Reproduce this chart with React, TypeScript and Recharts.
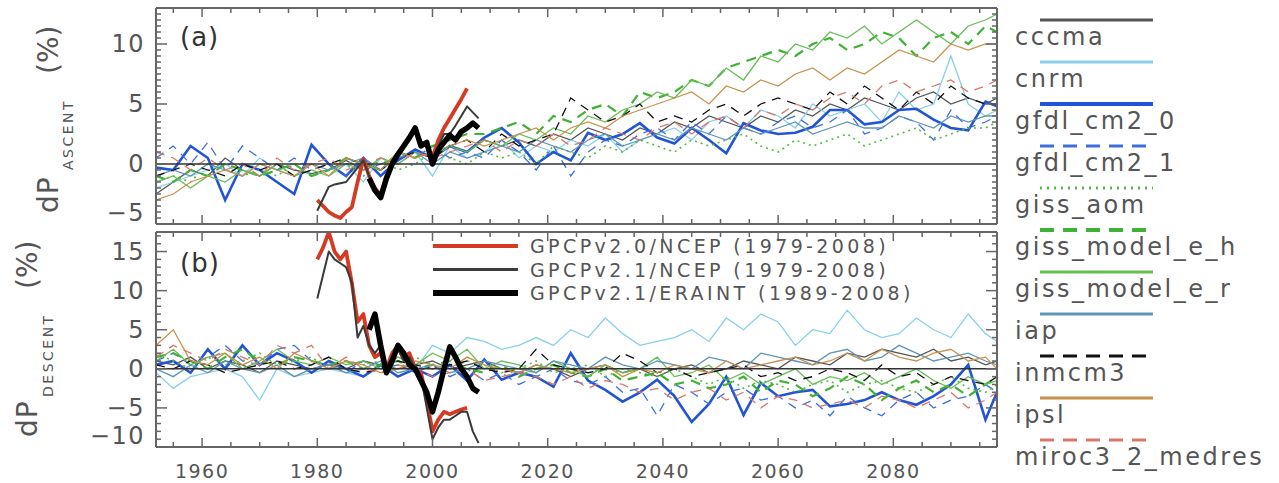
import React from 'react';
import { LineChart, Line, XAxis, YAxis, ReferenceLine } from 'recharts';

const FONT = '"DejaVu Sans", sans-serif';
const TXT = '#555555';
const AXIS = '#666666';

const modelYears = [1952,1955,1958,1961,1964,1967,1970,1973,1976,1979,1982,1985,1988,1991,1994,1997,2000,2003,2006,2009,2012,2015,2018,2021,2024,2027,2030,2033,2036,2039,2042,2045,2048,2051,2054,2057,2060,2063,2066,2069,2072,2075,2078,2081,2084,2087,2090,2093,2096,2098];
const obsYears = [1980,1981,1982,1983,1984,1985,1986,1987,1988,1989,1990,1991,1992,1993,1994,1995,1996,1997,1998,1999,2000,2001,2002,2003,2004,2005,2006,2007,2008];

const xTicks = [1955,1960,1965,1970,1975,1980,1985,1990,1995,2000,2005,2010,2015,2020,2025,2030,2035,2040,2045,2050,2055,2060,2065,2070,2075,2080,2085,2090,2095];
const xLabelTicks = [1960,1980,2000,2020,2040,2060,2080];
const aYTicks = [-5,-4.5,-4,-3.5,-3,-2.5,-2,-1.5,-1,-0.5,0,0.5,1,1.5,2,2.5,3,3.5,4,4.5,5,5.5,6,6.5,7,7.5,8,8.5,9,9.5,10,10.5,11,11.5,12,12.5,13];
const aYLabels = [-5,0,5,10];
const bYTicks = [-10,-9,-8,-7,-6,-5,-4,-3,-2,-1,0,1,2,3,4,5,6,7,8,9,10,11,12,13,14,15,16,17];
const bYLabels = [-10,-5,0,5,10,15];

// ---------- Panel (a): ASCENT ----------
const aCccma = [-2.5,-1.5,-0.5,-1,0.5,-0.5,-1,0,-0.5,-0.8, -0.5,0.3,-0.5,0,0.5,1,0.5,1.5,1,2, 1.5,2,1.5,2.5,2,3,2.5,2,3,2.5, 3.5,3,4,3.5,3,4,3.5,4.5,4,5, 4.5,5.5,5,4.5,5.5,6,5,5.5,5,5.5];
const aCnrm = [-2,-1.5,-1,-0.5,0,-1,0.5,-0.5,0,-1, -0.5,0,-1.5,0.5,0,1,-1,1.5,0.5,1, 2,0.5,1.5,1,2,1.5,2.5,1,2,2.5, 3,2,3.5,4,3,4.5,4,3,5,4, 4.5,5,3.5,6,4.5,5,9,5,4,4.5];
const aGfdl0 = [-0.3,-0.5,1.5,0.5,-3,0,-0.5,-1.5,-2.5,1.6, 0,-1,0.5,-1,0.3,1.2,0.5,1.5,1,2.2, 3,1.8,0,1,0.3,2.6,2,2.5,3.4,2.2, 1.7,3,2,0.9,3.4,2.8,2.5,2.6,3.1,4.5, 4.5,3.3,3.5,4.5,4.6,3.7,3,2.8,5.2,4.8];
const aGfdl1 = [0.5,1.5,0,1.8,-0.5,1.5,0.5,-0.5,0.5,-0.5, 0,-1,0.5,-0.5,1,0.5,1.5,0.5,1,0.5, 2,1,-0.5,1.5,-1,1,2,1.5,2.5,3, 2,3.5,2.5,4,3,2.5,3.5,4,3,3.5, 4.5,2.5,3,4,3.5,2,4.5,3,3.5,4];
const aGissAom = [-1.5,-1,-1.5,0,-0.5,-1,-0.5,-1,0,-1, -0.5,0,-1,0.5,-0.5,0,1,0.5,0,1, 0.5,1,0,1.5,1,0.5,1.5,1,2,1.5, 1,2,1.5,2,2.5,1.5,1,2,1.5,2, 2.5,1.5,2,2.5,3,2,2.5,3,3,3.5];
const aGissH = [-1,-1.5,-0.5,-1,0,-0.5,-1,-0.5,0,-1, -0.5,0.5,0,-0.5,1,0.5,1.5,2,2.5,2.5, 3,3.5,2.5,4,3.5,4.5,5,4,6,5.5, 6,7,6.5,8,8.5,9,9.5,9,10,10.5, 9.5,10,11,10.5,9,10.5,11,10,11.5,11];
const aGissR = [-1.5,-1,-2,-1,-1.5,-0.5,-1,0,-1,-0.5, -1,0,-0.5,0.5,0,1,0.5,1.5,1,2, 1.5,2.5,2,3,2.5,4,3.5,4.5,5,6, 5.5,7,6.5,8,7,9,8.5,10,9.5,11, 10.5,11.5,10,11,12,11,10,11.5,12,12.5];
const aIap = [-1,-0.5,-1,0,-0.5,-1,0,-0.5,-1,0, -0.5,0,0.5,-0.5,0.5,1,0,1,0.5,1, 1.5,1,2,1.5,1,2,2.5,1.5,2,2.5, 2,3,2.5,2,3,2.5,3,3.5,2.5,3, 3.5,3,3,4,3.5,3,4,3.5,4,4];
const aInmcm3 = [-1,-0.5,0,-0.5,-1,0,-0.5,0,-1,-0.5, 0,0.5,0,-0.5,0.5,1,0.5,1.5,2,1, 2.5,1.5,2,2.5,5.5,4.5,3.5,4,5,3.5, 4,3.5,4.5,5,4,5,5.5,5,4.5,6, 5,6.5,5.5,4.5,6,5,6.5,5.5,5,5];
const aIpsl = [-3,-2.5,-1.5,-1,-0.5,-1,0,-0.5,-1,0, -1,0.5,0,-0.5,1,0.5,1,1.5,2,1.5, 2,2.5,3,2,3,3.5,3,4,4.5,5, 5.5,6,5,6.5,6,7,6.5,7.5,8,7, 8,7.5,8.5,9.5,9,8.5,10,9.5,10,10];
const aMiroc = [1,0.5,-0.5,0.5,-0.5,0,-1,0.5,-0.5,0, 0.5,-0.5,0,0.5,0,1,0.5,1,1.5,2, 1,2,1.5,2.5,1.5,2,3,2.5,2,3, 3.5,2.5,3.5,4,3,4.5,4,5,4.5,5.5, 6,5,6.5,7,6,6.5,7,6,6.5,7];

const aObsV20 = [-3.0,-3.5,-4.0,-4.3,-4.5,-4.0,-3.6,-1.5,0.4,-1.0,-2.0,-2.6,-1.0,0.2,0.8,1.5,2.2,2.8,1.8,1.5,0.5,2.0,3.0,3.8,4.6,5.4,6.3,null,null];
const aObsV21 = [-3.9,-2.9,-1.9,-1.7,-1.6,-1.5,-0.9,-0.3,0.3,-1.0,-2.0,-2.7,-1.0,0.3,1.0,1.6,2.3,2.8,1.8,1.5,0.3,1.5,2.5,2.5,3.2,4.0,4.8,4.3,3.8];
const aObsEra = [null,null,null,null,null,null,null,null,null,-1.2,-2.2,-2.8,-1.2,0,0.8,1.5,2.2,3.0,1.5,1.8,0,1.2,1.8,2.4,2.0,2.7,3.0,3.4,3.0];

// ---------- Panel (b): DESCENT ----------
const bCccma = [1,0.5,1.5,0,1,0.5,-0.5,1,0.5,0, 0.5,0,1,0.5,0,0.5,1,0,0.5,1, 0,-0.5,0.5,0,-1,0,0.5,-0.5,0,-1, 0,0.5,-0.5,0,1,0.5,0,1.5,1,0.5, 2,1.5,2.5,2,1.5,2.5,1,1.5,0.5,1];
const bCnrm = [-0.5,-2.5,-1,-0.5,0,-1,-4,0,-1,-0.5, 0,-0.5,-1,0.5,-1,0,3,2,4,3.5, 2.5,3,4,3,5,4,6.5,4.5,3,3.5, 4,5,3.5,6.5,5,7,6,3,5,4.5, 7.5,5,4,4.5,6.5,5,4,7,4.5,3.5];
const bGfdl0 = [0.5,1,-0.5,2.5,0,3,0.5,2,1,-0.5, 1,0,-1,0.5,-1,0,-1,0.5,-1.5,1.2, -1.4,-0.5,-1,-2.3,2,-1.5,-2.7,-4.2,-3,-1.4, -3.5,-6.8,-4.5,-1,-5.9,-1.8,-3.5,-3,-2.7,-4.8, -4.5,-4,-3,-4,-4.6,-3.5,-2,0.5,-6.5,-3];
const bGfdl1 = [1,2,0.5,1.5,3,1,0.5,2.5,3,1, 0.5,-0.5,1,0,0.5,-0.5,0.5,-1,0,-1.5, -0.5,-2,-1,0,-1.5,-2,-1,-3,-2.5,-6, -2,-3,-4.5,-3,-2.5,-4,-3.5,-5,-4,-6, -3.5,-5,-6,-4,-3,-5,-4,-3.5,-2,-3];
const bGissAom = [2,1,0,1.5,0.5,1,2,0.5,1,1.5, 0,1,0.5,1,0,1.5,0.5,0,1,0.5, -0.5,0,1,-0.5,0,0.5,-1,0,-0.5,-1, 0,-1,-2,-1,-2.5,-1.5,-2,-3,-2,-1.5, -3,-2,-1.5,-2.5,-3,-2,-1,-2.5,-3,-2];
const bGissH = [1.5,2,1,0,1.5,2.5,1,0.5,1.5,1, 0.5,1,0,0.5,1,0,0.5,1,0,-0.5, 0.5,-1,0,0.5,-0.5,-1,0,-1.5,-1,-0.5, -2,-1.5,-2.5,-2,-1,-3,-1.5,-2,-3.5,-2.5, -1,-2,-4,-2.5,-1.5,-3,-2,-3.5,-2,-1];
const bGissR = [1,2.5,0.5,1.5,2,0,1,2.5,1,0.5, 1.5,0.5,1,0,1.5,0.5,2,1,2.5,0, 1,0.5,-0.5,1,0,-1,0.5,-0.5,0,1.5, -1,-0.5,0.5,-1.5,-0.5,-2,-1,0,-2,-1, -1.5,-0.5,-2,-1,0,-1.5,-2.5,-1,-2,-1.5];
const bIap = [0,-1,0.5,-0.5,1,0,-0.5,0.5,-1,0, 0.5,-0.5,0,1,-0.5,0,0.5,-0.5,0,1, 0.5,0,-0.5,1,0.5,0,1.5,0.5,0,1, 0.5,0,1.5,1,0,2,1.5,1,0.5,2, 2.5,1,1.5,3,2,1,1.5,2,1,0.5];
const bInmcm3 = [0.5,0,1,0.5,-0.5,0,0.5,1,0,0.5, 1.5,0,-0.5,0,1,0.5,0,0.5,1,0, -0.5,0,2.5,0.5,0,-0.5,0,2,1,-0.5, 0,-1,-0.5,0,0.5,-1,-0.5,-1.5,-1,0, -0.5,-1.5,0.5,-1,-0.5,-2,-1,-1.5,-2,-1];
const bIpsl = [3,5,1,0.5,2,0.5,1.5,0,2,1, 0,1,0.5,-0.5,0,1,0.5,0,1.5,0.5, 0,-0.5,0.5,0,-0.5,0,0.5,-1,0,-0.5, 0.5,0,-0.5,1,0,0.5,1,1.5,0.5,1, 2,1,2.5,1.5,1,2,2.5,1,1.5,0];
const bMiroc = [1.5,3,2,1,2.5,1.5,0.5,3,2,3, 0,1.5,0,-0.5,0.5,0,-1,-0.5,0,-1.5, -1,-0.5,-1,-2,-1,-2.5,-1.5,-2,-3,-2.5, -4,-3,-2.5,-4,-3,-5,-3.5,-4,-5,-4.5, -4,-5,-3.5,-4,-5,-4,-3,-5,-4,-3];

const bObsV20 = [14,15.5,17.5,15,14,15,11,6,7,3,1.5,2,0,2,3,1.5,2,0,-0.5,-4,-8,-6.5,-5.5,-5.8,-5.5,-5.2,-5,null,null];
const bObsV21 = [9,12,15,14,13.5,13,11,4,5.5,3,2,3,0,1.5,2.5,1,1.5,0,-1,-5,-9,-7.5,-6.5,-6.5,-6,-5.5,-5.5,-8,-9.5];
const bObsEra = [null,null,null,null,null,null,null,null,null,5,7,3,-0.5,1,3,2,0.5,0,-1.5,-3,-5.5,-3,0,2.8,1.5,0,-1,-2.5,-3];

const modelSeries = [
  { key: 'cccma', color: '#555555', width: 1.3, dash: undefined as string | undefined, lw: 3, ldash: undefined as string | undefined },
  { key: 'cnrm', color: '#88d0ea', width: 1.3, dash: undefined, lw: 3, ldash: undefined },
  { key: 'gfdl_cm2_0', color: '#2255d4', width: 2.6, dash: undefined, lw: 4, ldash: undefined },
  { key: 'gfdl_cm2_1', color: '#3d6ee0', width: 1.3, dash: '9 7', lw: 3, ldash: '14 9' },
  { key: 'giss_aom', color: '#55bb44', width: 1.6, dash: '2 4', lw: 3, ldash: '2 5' },
  { key: 'giss_model_e_h', color: '#3fb236', width: 2.2, dash: '10 7', lw: 4, ldash: '14 9' },
  { key: 'giss_model_e_r', color: '#66bd54', width: 1.3, dash: undefined, lw: 3, ldash: undefined },
  { key: 'iap', color: '#5f96b8', width: 1.3, dash: undefined, lw: 3, ldash: undefined },
  { key: 'inmcm3', color: '#111111', width: 1.3, dash: '9 7', lw: 3, ldash: '14 9' },
  { key: 'ipsl', color: '#c8924c', width: 1.3, dash: undefined, lw: 3, ldash: undefined },
  { key: 'miroc3_2_medres', color: '#d8786a', width: 1.3, dash: '9 7', lw: 3, ldash: '14 9' },
];

const obsSeries = [
  { key: 'v20', name: 'GPCPv2.0/NCEP (1979-2008)', color: '#d43a24', width: 3.8, lw: 4 },
  { key: 'v21', name: 'GPCPv2.1/NCEP (1979-2008)', color: '#3a3a3a', width: 2.0, lw: 3 },
  { key: 'era', name: 'GPCPv2.1/ERAINT (1989-2008)', color: '#000000', width: 5.5, lw: 6 },
];

const aModels: Record<string, number[]> = {
  cccma: aCccma, cnrm: aCnrm, gfdl_cm2_0: aGfdl0, gfdl_cm2_1: aGfdl1, giss_aom: aGissAom,
  giss_model_e_h: aGissH, giss_model_e_r: aGissR, iap: aIap, inmcm3: aInmcm3, ipsl: aIpsl, miroc3_2_medres: aMiroc,
};
const bModels: Record<string, number[]> = {
  cccma: bCccma, cnrm: bCnrm, gfdl_cm2_0: bGfdl0, gfdl_cm2_1: bGfdl1, giss_aom: bGissAom,
  giss_model_e_h: bGissH, giss_model_e_r: bGissR, iap: bIap, inmcm3: bInmcm3, ipsl: bIpsl, miroc3_2_medres: bMiroc,
};
const aObs: Record<string, (number | null)[]> = { v20: aObsV20, v21: aObsV21, era: aObsEra };
const bObs: Record<string, (number | null)[]> = { v20: bObsV20, v21: bObsV21, era: bObsEra };

function buildRows(models: Record<string, number[]>, obs: Record<string, (number | null)[]>) {
  const years = Array.from(new Set([...modelYears, ...obsYears])).sort((p, q) => p - q);
  return years.map((yr) => {
    const row: Record<string, number | null> = { year: yr };
    const mi = modelYears.indexOf(yr);
    Object.keys(models).forEach((k) => { row[k] = mi >= 0 ? models[k][mi] : null; });
    const oi = obsYears.indexOf(yr);
    Object.keys(obs).forEach((k) => { row[k] = oi >= 0 ? obs[k][oi] : null; });
    return row;
  });
}

const rowsA = buildRows(aModels, aObs);
const rowsB = buildRows(bModels, bObs);

const fmt = (v: number) => (v < 0 ? '\u2212' + Math.abs(v) : String(v));

const makeXTick = (side: 'top' | 'bottom', labels: boolean) => (props: any) => {
  const { x, y, payload } = props;
  const v = payload.value;
  const major = v % 20 === 0;
  const len = major ? 9 : 5;
  const dir = side === 'bottom' ? -1 : 1;
  return (
    <g>
      <line x1={x} x2={x} y1={y} y2={y + dir * len} stroke={AXIS} strokeWidth={1.5} />
      {labels && xLabelTicks.includes(v) ? (
        <text x={x} y={y + 31} textAnchor="middle" fontSize={19} letterSpacing={1.5} fill={TXT} fontFamily={FONT}>{v}</text>
      ) : null}
    </g>
  );
};

const makeYTick = (side: 'left' | 'right', labels: number[], min: number) => (props: any) => {
  const { x, y, payload } = props;
  const v = payload.value;
  const major = v % 5 === 0;
  const len = major ? 11 : 5;
  const dir = side === 'left' ? 1 : -1;
  return (
    <g>
      <line x1={x} x2={x + dir * len} y1={y} y2={y} stroke={AXIS} strokeWidth={1.5} />
      {side === 'left' && labels.includes(v) ? (
        <text x={x - 11} y={y + (v === min ? -11 : 0)} textAnchor="end" dominantBaseline="central" fontSize={24} letterSpacing={1.5} fill={TXT} fontFamily={FONT}>{fmt(v)}</text>
      ) : null}
    </g>
  );
};

type PanelProps = {
  rows: any[];
  domain: [number, number];
  yTicks: number[];
  yLabels: number[];
  height: number;
  margin: { top: number; right: number; bottom: number; left: number };
  showXLabels: boolean;
};

function Panel({ rows, domain, yTicks, yLabels, height, margin, showXLabels }: PanelProps) {
  return (
    <LineChart width={1000} height={height} data={rows} margin={margin}>
      <XAxis xAxisId="b" dataKey="year" type="number" domain={[1952, 2098]} allowDataOverflow
        ticks={xTicks} interval={0} tickSize={0} tickMargin={0} height={1}
        axisLine={{ stroke: AXIS, strokeWidth: 2 }} tickLine={false} tick={makeXTick('bottom', showXLabels)} />
      <XAxis xAxisId="t" orientation="top" dataKey="year" type="number" domain={[1952, 2098]} allowDataOverflow
        ticks={xTicks} interval={0} tickSize={0} tickMargin={0} height={1}
        axisLine={{ stroke: AXIS, strokeWidth: 2 }} tickLine={false} tick={makeXTick('top', false)} />
      <YAxis yAxisId="l" type="number" domain={domain} allowDataOverflow ticks={yTicks} interval={0}
        tickSize={0} tickMargin={0} width={156} axisLine={{ stroke: AXIS, strokeWidth: 2 }} tickLine={false}
        tick={makeYTick('left', yLabels, domain[0])} />
      <YAxis yAxisId="r" orientation="right" type="number" domain={domain} allowDataOverflow ticks={yTicks} interval={0}
        tickSize={0} tickMargin={0} width={3} axisLine={{ stroke: AXIS, strokeWidth: 2 }} tickLine={false}
        tick={makeYTick('right', yLabels, domain[0])} />
      {modelSeries.map((s) => (
        <Line key={s.key} xAxisId="b" yAxisId="l" type="linear" dataKey={s.key} stroke={s.color}
          strokeWidth={s.width} strokeDasharray={s.dash} dot={false} activeDot={false}
          connectNulls isAnimationActive={false} />
      ))}
      <ReferenceLine xAxisId="b" yAxisId="l" y={0} stroke="#333333" strokeWidth={1.6} />
      {obsSeries.map((s) => (
        <Line key={s.key} xAxisId="b" yAxisId="l" type="linear" dataKey={s.key} stroke={s.color}
          strokeWidth={s.width} dot={false} activeDot={false} strokeLinejoin="round"
          connectNulls isAnimationActive={false} />
      ))}
    </LineChart>
  );
}

function Overlay() {
  const legendY0 = 20;
  const legendStep = 42;
  return (
    <svg width={1279} height={483} style={{ position: 'absolute', left: 0, top: 0, pointerEvents: 'none' }}>
      {/* Axis titles, panel (a) */}
      <text transform="translate(58,213) rotate(-90)" fontSize={28} letterSpacing={1} fill={TXT} fontFamily={FONT}>dP</text>
      <text transform="translate(73,170) rotate(-90)" fontSize={14} letterSpacing={2.5} fill={TXT} fontFamily={FONT}>ASCENT</text>
      <text transform="translate(58,74) rotate(-90)" fontSize={28} fill={TXT} fontFamily={FONT}>(%)</text>
      {/* Axis titles, panel (b) */}
      <text transform="translate(37,437) rotate(-90)" fontSize={28} letterSpacing={1} fill={TXT} fontFamily={FONT}>dP</text>
      <text transform="translate(53,397) rotate(-90)" fontSize={14} letterSpacing={2.5} fill={TXT} fontFamily={FONT}>DESCENT</text>
      <text transform="translate(37,289) rotate(-90)" fontSize={28} fill={TXT} fontFamily={FONT}>(%)</text>
      {/* Panel labels */}
      <text x={180} y={46} fontSize={26} letterSpacing={1} fill="#333333" fontFamily={FONT}>(a)</text>
      <text x={180} y={272} fontSize={26} letterSpacing={1} fill="#333333" fontFamily={FONT}>(b)</text>
      {/* Observation legend */}
      {obsSeries.map((s, i) => {
        const y = 246 + i * 23.5;
        return (
          <g key={s.key}>
            <line x1={433} x2={518} y1={y} y2={y} stroke={s.color} strokeWidth={s.lw} />
            <text x={530} y={y + 7} fontSize={19} letterSpacing={3.4} fill={TXT} fontFamily={FONT}>{s.name}</text>
          </g>
        );
      })}
      {/* Model legend */}
      {modelSeries.map((s, i) => {
        const y = legendY0 + i * legendStep;
        return (
          <g key={s.key}>
            <line x1={1040} x2={1153} y1={y} y2={y} stroke={s.color} strokeWidth={s.lw} strokeDasharray={s.ldash} />
            <text x={1015} y={y + 25} fontSize={24} letterSpacing={2.5} fill={TXT} fontFamily={FONT}>{s.key}</text>
          </g>
        );
      })}
    </svg>
  );
}

export default function App() {
  return (
    <div style={{ position: 'absolute', left: 0, top: 0, width: 1279, height: 483, background: '#ffffff', overflow: 'hidden' }}>
      <div style={{ position: 'absolute', left: 0, top: 0 }}>
        <Panel rows={rowsA} domain={[-5, 13]} yTicks={aYTicks} yLabels={aYLabels} height={226}
          margin={{ top: 7, right: 0, bottom: 1, left: 0 }} showXLabels={false} />
      </div>
      <div style={{ position: 'absolute', left: 0, top: 226 }}>
        <Panel rows={rowsB} domain={[-10, 17.5]} yTicks={bYTicks} yLabels={bYLabels} height={257}
          margin={{ top: 5, right: 0, bottom: 35, left: 0 }} showXLabels />
      </div>
      <Overlay />
    </div>
  );
}
